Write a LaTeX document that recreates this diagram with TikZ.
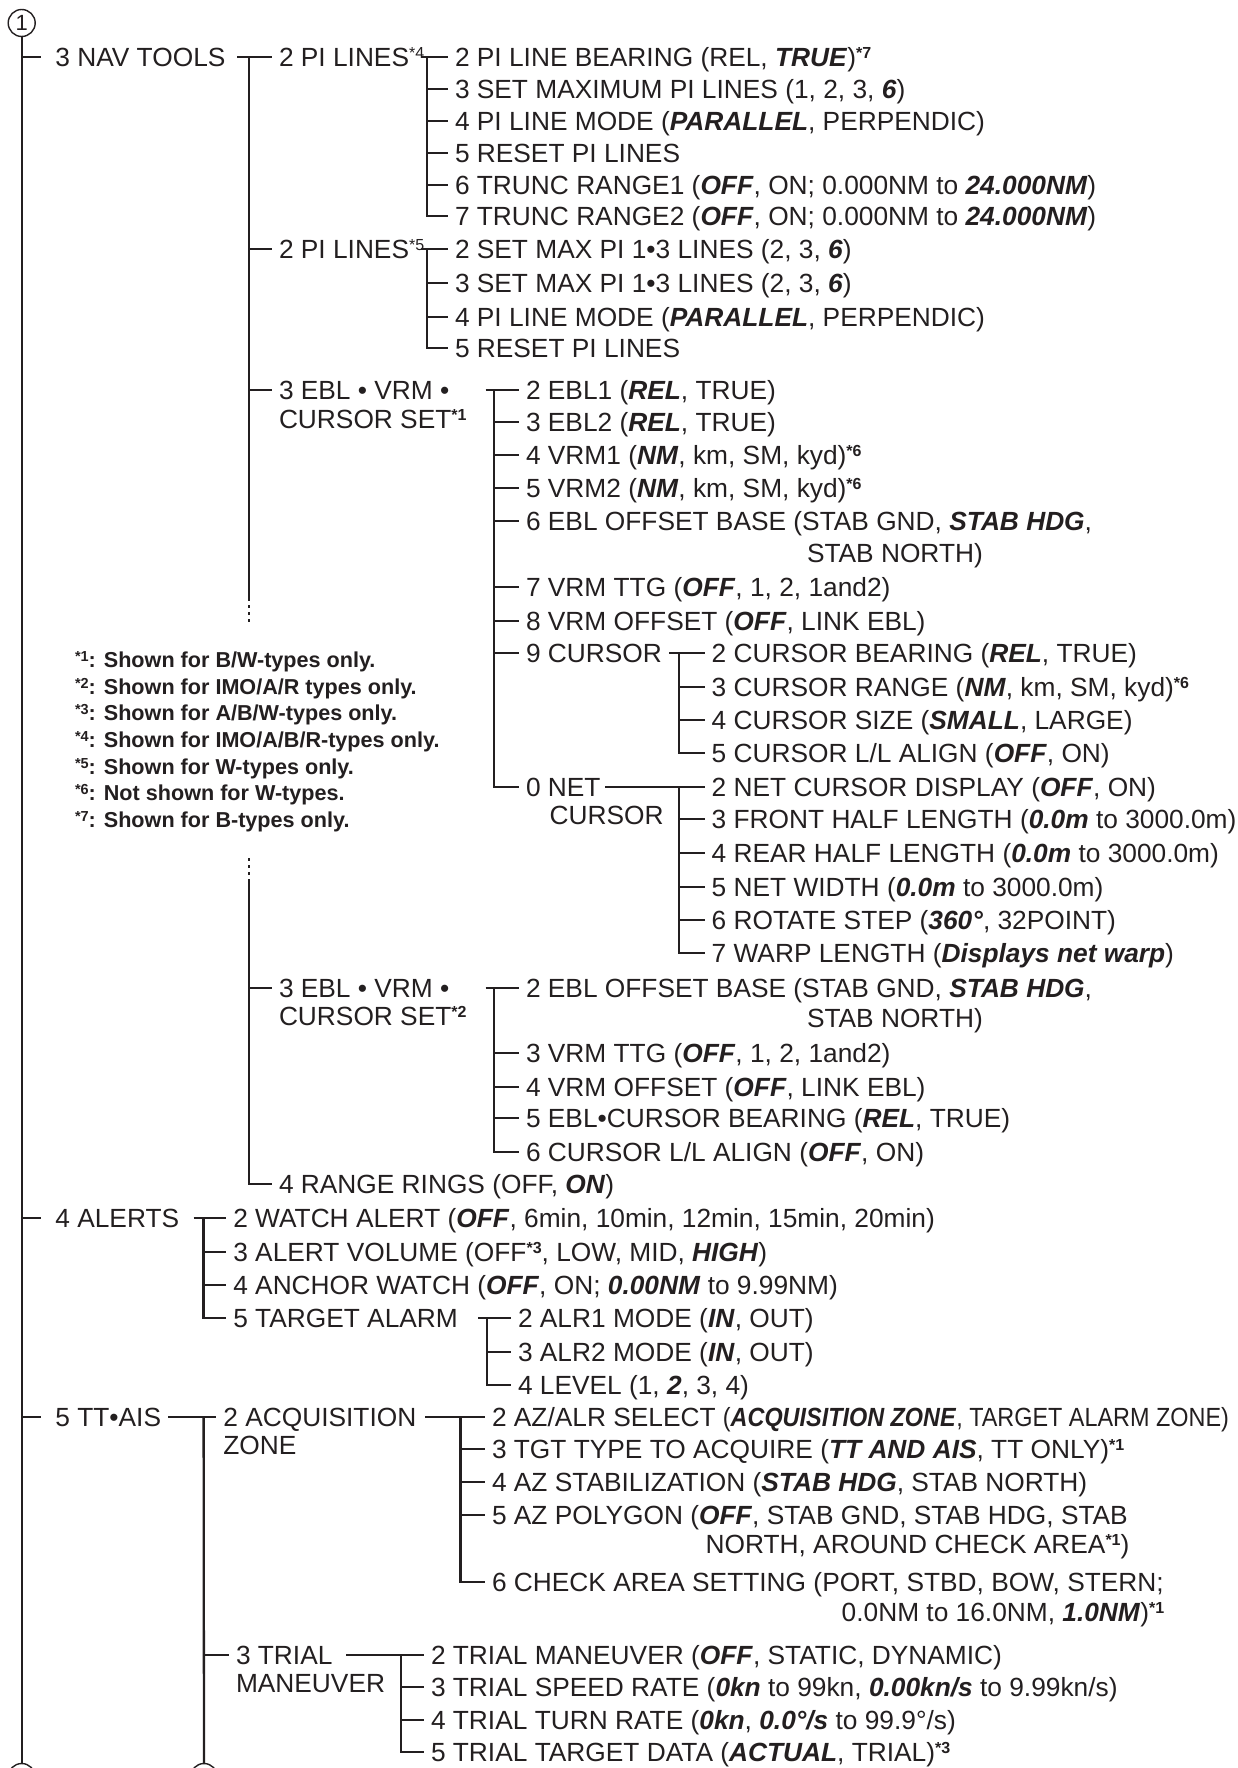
\documentclass[tikz,border=0pt]{standalone}
\usepackage{fontspec}
\setmainfont{Liberation Sans}
\usepackage{graphicx}
\definecolor{ink}{RGB}{35,31,32}
\newcommand{\BI}[1]{\textbf{\textit{#1}}}
\newcommand{\Sb}[1]{\raisebox{8pt}{\fontsize{16pt}{16pt}\selectfont\bfseries #1}}
\newcommand{\Sr}[1]{\raisebox{8pt}{\fontsize{16pt}{16pt}\selectfont #1}}
\newcommand{\Sn}[1]{\raisebox{6.5pt}{\fontsize{14.5pt}{14.5pt}\selectfont\bfseries #1}}
\begin{document}
\begin{tikzpicture}[x=1pt,y=-1pt,
  txt/.style={anchor=west, inner sep=0pt, outer sep=0pt, text height=18.8pt, text depth=0pt, font=\fontsize{26.3pt}{30pt}\selectfont, text=ink},
  note/.style={anchor=west, inner sep=0pt, outer sep=0pt, text height=15.5pt, text depth=0pt, font=\bfseries\fontsize{21.6pt}{26pt}\selectfont, text=ink},
  ln/.style={draw=ink, line width=2.3pt},
  tk/.style={ln, shorten >=7pt},
  tkone/.style={ln, shorten >=14pt},
  brk/.style={draw=ink, line width=2.3pt, dash pattern=on 3pt off 4pt},
  circ/.style={circle, draw=ink, line width=1.4pt, minimum size=27pt, inner sep=0pt, font=\fontsize{22pt}{24pt}\selectfont, text=ink}
]
\useasboundingbox (0,0) rectangle (1237,1768);
\fill[white] (0,0) rectangle (1237,1768);

% circles
\node[circ] (c1) at (21.7,23) {1};
\node[circ] (c1b) at (21.7,1777) {1};
\node[circ] (c2b) at (204,1777) {2};

% level 1
\node[txt] (nav) at (55.4,57) {3 NAV TOOLS};
\node[txt] (alr) at (55.4,1218) {4 ALERTS};
\node[txt] (tt) at (55.4,1417) {5 TT•AIS};

% NAV TOOLS children
\node[txt] (pi4) at (279,57) {2 PI LINES\Sr{*4}};
\node[txt] (pi5) at (279,249) {2 PI LINES\Sr{*5}};
\node[txt] (eblA) at (279,390) {3 EBL • VRM •};
\node[txt] (eblAb) at (279,419) {CURSOR SET\Sb{*1}};
\node[txt] (eblB) at (279,988) {3 EBL • VRM •};
\node[txt] (eblBb) at (279,1016) {CURSOR SET\Sb{*2}};
\node[txt] (rr) at (279,1184) {4 RANGE RINGS (OFF, \BI{ON})};

% PI LINES *4
\node[txt] (a1) at (455,57) {2 PI LINE BEARING (REL, \BI{TRUE})\Sb{*7}};
\node[txt] (a2) at (455,89) {3 SET MAXIMUM PI LINES (1, 2, 3, \BI{6})};
\node[txt] (a3) at (455,121) {4 PI LINE MODE (\BI{PARALLEL}, PERPENDIC)};
\node[txt] (a4) at (455,153) {5 RESET PI LINES};
\node[txt] (a5) at (455,185) {6 TRUNC RANGE1 (\BI{OFF}, ON; 0.000NM to \BI{24.000NM})};
\node[txt] (a6) at (455,216) {7 TRUNC RANGE2 (\BI{OFF}, ON; 0.000NM to \BI{24.000NM})};

% PI LINES *5
\node[txt] (b1) at (455,249) {2 SET MAX PI 1•3 LINES (2, 3, \BI{6})};
\node[txt] (b2) at (455,283) {3 SET MAX PI 1•3 LINES (2, 3, \BI{6})};
\node[txt] (b3) at (455,317) {4 PI LINE MODE (\BI{PARALLEL}, PERPENDIC)};
\node[txt] (b4) at (455,348) {5 RESET PI LINES};

% EBL VRM CURSOR SET *1
\node[txt] (e1) at (526,390) {2 EBL1 (\BI{REL}, TRUE)};
\node[txt] (e2) at (526,422) {3 EBL2 (\BI{REL}, TRUE)};
\node[txt] (e3) at (526,455) {4 VRM1 (\BI{NM}, km, SM, kyd)\Sb{*6}};
\node[txt] (e4) at (526,488) {5 VRM2 (\BI{NM}, km, SM, kyd)\Sb{*6}};
\node[txt] (e5) at (526,521) {6 EBL OFFSET BASE (STAB GND, \BI{STAB HDG},};
\node[txt] (e5b) at (807,553) {STAB NORTH)};
\node[txt] (e6) at (526,587) {7 VRM TTG (\BI{OFF}, 1, 2, 1and2)};
\node[txt] (e7) at (526,621) {8 VRM OFFSET (\BI{OFF}, LINK EBL)};
\node[txt] (e8) at (526,653) {9 CURSOR};
\node[txt] (e9) at (526,787) {0 NET};
\node[txt] (e9b) at (549.6,815) {CURSOR};

% 9 CURSOR
\node[txt] (f1) at (711.7,653) {2 CURSOR BEARING (\BI{REL}, TRUE)};
\node[txt] (f2) at (711.7,687) {3 CURSOR RANGE (\BI{NM}, km, SM, kyd)\Sb{*6}};
\node[txt] (f3) at (711.7,720) {4 CURSOR SIZE (\BI{SMALL}, LARGE)};
\node[txt] (f4) at (711.7,753) {5 CURSOR L/L ALIGN (\BI{OFF}, ON)};

% 0 NET CURSOR
\node[txt] (g1) at (711.7,787) {2 NET CURSOR DISPLAY (\BI{OFF}, ON)};
\node[txt] (g2) at (711.7,819) {3 FRONT HALF LENGTH (\BI{0.0m} to 3000.0m)};
\node[txt] (g3) at (711.7,853) {4 REAR HALF LENGTH (\BI{0.0m} to 3000.0m)};
\node[txt] (g4) at (711.7,887) {5 NET WIDTH (\BI{0.0m} to 3000.0m)};
\node[txt] (g5) at (711.7,920) {6 ROTATE STEP (\BI{360°}, 32POINT)};
\node[txt] (g6) at (711.7,953) {7 WARP LENGTH (\BI{Displays net warp})};

% EBL VRM CURSOR SET *2
\node[txt] (h1) at (526,988) {2 EBL OFFSET BASE (STAB GND, \BI{STAB HDG},};
\node[txt] (h1b) at (807,1018) {STAB NORTH)};
\node[txt] (h2) at (526,1053) {3 VRM TTG (\BI{OFF}, 1, 2, 1and2)};
\node[txt] (h3) at (526,1087) {4 VRM OFFSET (\BI{OFF}, LINK EBL)};
\node[txt] (h4) at (526,1118) {5 EBL•CURSOR BEARING (\BI{REL}, TRUE)};
\node[txt] (h5) at (526,1152) {6 CURSOR L/L ALIGN (\BI{OFF}, ON)};

% ALERTS
\node[txt] (k1) at (233.3,1218) {2 WATCH ALERT (\BI{OFF}, 6min, 10min, 12min, 15min, 20min)};
\node[txt] (k2) at (233.3,1252) {3 ALERT VOLUME (OFF\Sb{*3}, LOW, MID, \BI{HIGH})};
\node[txt] (k3) at (233.3,1285) {4 ANCHOR WATCH (\BI{OFF}, ON; \BI{0.00NM} to 9.99NM)};
\node[txt] (k4) at (233.3,1318) {5 TARGET ALARM};
\node[txt] (m1) at (518,1318) {2 ALR1 MODE (\BI{IN}, OUT)};
\node[txt] (m2) at (518,1352) {3 ALR2 MODE (\BI{IN}, OUT)};
\node[txt] (m3) at (518,1385) {4 LEVEL (1, \BI{2}, 3, 4)};

% TT AIS
\node[txt] (acq) at (223.4,1417) {2 ACQUISITION};
\node[txt] (acqb) at (223.4,1445) {ZONE};
\node[txt] (trial) at (236,1655) {3 TRIAL};
\node[txt] (trialb) at (236,1683) {MANEUVER};
\node[txt] (p1) at (492,1417) {2 AZ/ALR SELECT \scalebox{0.89}[1]{(\BI{ACQUISITION ZONE}, TARGET ALARM ZONE)}};
\node[txt] (p2) at (492,1449) {3 TGT TYPE TO ACQUIRE (\BI{TT AND AIS}, TT ONLY)\Sb{*1}};
\node[txt] (p3) at (492,1482) {4 AZ STABILIZATION (\BI{STAB HDG}, STAB NORTH)};
\node[txt] (p4) at (492,1515) {5 AZ POLYGON (\BI{OFF}, STAB GND, STAB HDG, STAB};
\node[txt] (p4b) at (705.6,1544) {NORTH, AROUND CHECK AREA\Sb{*1})};
\node[txt] (p5) at (492,1582) {6 CHECK AREA SETTING (PORT, STBD, BOW, STERN;};
\node[txt] (p5b) at (841.7,1612) {0.0NM to 16.0NM, \BI{1.0NM})\Sb{*1}};
\node[txt] (q1) at (431,1655) {2 TRIAL MANEUVER (\BI{OFF}, STATIC, DYNAMIC)};
\node[txt] (q2) at (431,1687) {3 TRIAL SPEED RATE (\BI{0kn} to 99kn, \BI{0.00kn/s} to 9.99kn/s)};
\node[txt] (q3) at (431,1720) {4 TRIAL TURN RATE (\BI{0kn}, \BI{0.0°/s} to 99.9°/s)};
\node[txt] (q4) at (431,1752) {5 TRIAL TARGET DATA (\BI{ACTUAL}, TRIAL)\Sb{*3}};

% footnotes
\node[note] (n1) at (75,660) {\Sn{*1}: Shown for B/W-types only.};
\node[note] (n2) at (75,687) {\Sn{*2}: Shown for IMO/A/R types only.};
\node[note] (n3) at (75,713) {\Sn{*3}: Shown for A/B/W-types only.};
\node[note] (n4) at (75,740) {\Sn{*4}: Shown for IMO/A/B/R-types only.};
\node[note] (n5) at (75,767) {\Sn{*5}: Shown for W-types only.};
\node[note] (n6) at (75,793) {\Sn{*6}: Not shown for W-types.};
\node[note] (n7) at (75,820) {\Sn{*7}: Shown for B-types only.};

% ---------- connectors ----------
% main trunk
\draw[ln] (c1.south) -- (c1b.north);
\draw[tkone] (c1.south |- nav.west) -- (nav.west);
\draw[tkone] (c1.south |- alr.west) -- (alr.west);
\draw[tkone] (c1.south |- tt.west) -- (tt.west);

% NAV TOOLS
\coordinate (tnav) at (237,57);
\coordinate (vnav) at (249,57);
\coordinate (navb1) at (249,598);
\coordinate (navb2) at (249,623);
\coordinate (navb3) at (249,858);
\coordinate (navb4) at (249,880);
\draw[tk] (tnav) -- (pi4.west);
\draw[ln] (vnav) -- (navb1);
\draw[brk] (navb1) -- (navb2);
\draw[brk] (navb3) -- (navb4);
\draw[tk] (navb4) |- (rr.west);
\foreach \c in {pi5,eblA,eblB} \draw[tk] (vnav |- \c.west) -- (\c.west);

% PI LINES *4
\coordinate (tpi4) at (421,57);
\coordinate (vpi4) at (427,57);
\draw[tk] (tpi4) -- (a1.west);
\foreach \c in {a2,a3,a4,a5} \draw[tk] (vpi4 |- \c.west) -- (\c.west);
\draw[tk] (vpi4) |- (a6.west);

% PI LINES *5
\coordinate (tpi5) at (421,249);
\coordinate (vpi5) at (427,249);
\draw[tk] (tpi5) -- (b1.west);
\foreach \c in {b2,b3} \draw[tk] (vpi5 |- \c.west) -- (\c.west);
\draw[tk] (vpi5) |- (b4.west);

% EBL *1
\coordinate (teA) at (485.6,390);
\coordinate (veA) at (494.3,390);
\draw[tk] (teA) -- (e1.west);
\foreach \c in {e2,e3,e4,e5,e6,e7,e8} \draw[tk] (veA |- \c.west) -- (\c.west);
\draw[tk] (veA) |- (e9.west);

% 9 CURSOR
\coordinate (tcur) at (669,653);
\coordinate (vcur) at (679,653);
\draw[tk] (tcur) -- (f1.west);
\foreach \c in {f2,f3} \draw[tk] (vcur |- \c.west) -- (\c.west);
\draw[tk] (vcur) |- (f4.west);

% 0 NET CURSOR
\coordinate (tnet) at (605,787);
\coordinate (vnet) at (679,787);
\draw[tk] (tnet) -- (g1.west);
\foreach \c in {g2,g3,g4,g5} \draw[tk] (vnet |- \c.west) -- (\c.west);
\draw[tk] (vnet) |- (g6.west);

% EBL *2
\coordinate (teB) at (485.6,988);
\coordinate (veB) at (494.3,988);
\draw[tk] (teB) -- (h1.west);
\foreach \c in {h2,h3,h4} \draw[tk] (veB |- \c.west) -- (\c.west);
\draw[tk] (veB) |- (h5.west);

% ALERTS
\coordinate (talr) at (193.7,1218);
\coordinate (valr) at (203.6,1218);
\draw[tk] (talr) -- (k1.west);
\foreach \c in {k2,k3} \draw[tk] (valr |- \c.west) -- (\c.west);
\draw[tk] (valr) |- (k4.west);

% TARGET ALARM
\coordinate (ttar) at (478.4,1318);
\coordinate (vtar) at (487,1318);
\draw[tk] (ttar) -- (m1.west);
\draw[tk] (vtar |- m2.west) -- (m2.west);
\draw[tk] (vtar) |- (m3.west);

% TT AIS
\coordinate (ttt) at (168,1417);
\coordinate (vtt) at (203.6,1417);
\draw[tk] (ttt) -- (acq.west);
\draw[ln] (vtt) -- (c2b.north);
\draw[tk] (vtt |- trial.west) -- (trial.west);

% ACQUISITION ZONE
\coordinate (tacq) at (425,1417);
\coordinate (vacq) at (460.6,1417);
\draw[tk] (tacq) -- (p1.west);
\foreach \c in {p2,p3,p4} \draw[tk] (vacq |- \c.west) -- (\c.west);
\draw[tk] (vacq) |- (p5.west);

% TRIAL MANEUVER
\coordinate (ttri) at (346,1655);
\coordinate (vtri) at (401,1655);
\draw[tk] (ttri) -- (q1.west);
\foreach \c in {q2,q3} \draw[tk] (vtri |- \c.west) -- (\c.west);
\draw[tk] (vtri) |- (q4.west);
\end{tikzpicture}
\end{document}
